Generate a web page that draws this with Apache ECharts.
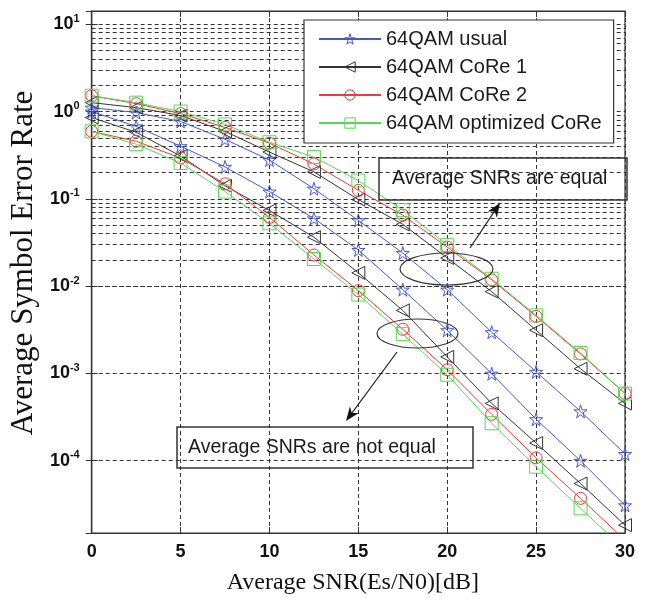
<!DOCTYPE html>
<html><head><meta charset="utf-8">
<script src="https://cdn.jsdelivr.net/npm/echarts@6/dist/echarts.min.js"></script>
<style>html,body{margin:0;padding:0;background:#fff}#c{width:646px;height:600px}</style>
</head><body><div id="c"></div>
<script>
// ---- data ----
const snrDb = [0, 2.5, 5, 7.5, 10, 12.5, 15, 17.5, 20, 22.5, 25, 27.5, 30];

const usualEqual      = [1.11, 0.974, 0.770, 0.481, 0.278, 0.1305, 0.0566, 0.0239, 0.00910, 0.00296, 0.00104, 0.000367, 0.000119];
const usualNotEqual   = [1.00, 0.676, 0.401, 0.232, 0.121, 0.0596, 0.0259, 0.00910, 0.00312, 0.000990, 0.000298, 0.0000995, 0.0000307];
const core1Equal      = [1.265, 1.11, 0.901, 0.593, 0.343, 0.2035, 0.0981, 0.0510, 0.0210, 0.00864, 0.00312, 0.001128, 0.000452];
const core1NotEqual   = [0.855, 0.578, 0.309, 0.1411, 0.0735, 0.0363, 0.01418, 0.00526, 0.001543, 0.000452, 0.000159, 0.0000546, 0.0000182];
const core2Equal      = [1.518, 1.232, 0.949, 0.659, 0.434, 0.2506, 0.1249, 0.0650, 0.02797, 0.01182, 0.0045, 0.001668, 0.000587];
const core2NotEqual   = [0.593, 0.457, 0.293, 0.1487, 0.0612, 0.0227, 0.00887, 0.0032, 0.0011, 0.000339, 0.0001076, 0.0000369, 0.0000123];
const optEqual        = [1.518, 1.265, 1.0, 0.712, 0.445, 0.301, 0.162, 0.0741, 0.0297, 0.01213, 0.00462, 0.00171, 0.000587];
const optNotEqual     = [0.593, 0.4225, 0.2573, 0.121, 0.0523, 0.02045, 0.00799, 0.00281, 0.000964, 0.000268, 0.0000851, 0.0000284, 0.0000095];

const seriesNames = ['64QAM usual', '64QAM CoRe 1', '64QAM CoRe 2', '64QAM optimized CoRe'];
const xTicks = [0, 5, 10, 15, 20, 25, 30];
const yRange = [1.48e-5, 14.2];
const xTitle = 'Average SNR(Es/N0)[dB]';
const yTitle = 'Average Symbol Error Rate';
const noteEqual = 'Average SNRs are equal';
const noteNotEqual = 'Average SNRs are not equal';

// ---- styles ----
const colors = ['#4657d0', '#333333', '#ee3a3a', '#55d855'];
const hollow = 'rgba(255,255,255,0)';
const starPath = 'path://M50,0 L61,35 L98,35 L68,57 L79,91 L50,70 L21,91 L32,57 L2,35 L39,35 Z';
const triLeftPath = 'path://M0,50 L100,0 L100,100 Z';
const symbols = [starPath, triLeftPath, 'circle', 'rect'];
const symbolSizes = [13, 13, 12, 13];

function mkSeries(idx, data) {
  return {
    name: seriesNames[idx], type: 'line',
    data: snrDb.map((x, i) => [x, data[i]]),
    symbol: symbols[idx], symbolSize: symbolSizes[idx],
    showSymbol: true, clip: true, z: 5,
    lineStyle: { color: colors[idx], width: 1 },
    itemStyle: { color: hollow, borderColor: colors[idx], borderWidth: 1 }
  };
}

// minor log grid positions (2..9 x 10^k)
const minorGrid = [];
for (let e = -5; e <= 1; e++) for (let m = 2; m <= 9; m++) {
  const v = m * Math.pow(10, e);
  if (v > yRange[0] && v < yRange[1]) minorGrid.push({ yAxis: v });
}

const gridLine = { color: '#333', width: 1, type: [4, 3] };
const tickFont = { color: '#111', fontFamily: 'Liberation Sans, Arial', fontWeight: 'bold', fontSize: 18 };

function yLabel(v) {
  const l = Math.log10(v), e = Math.round(l);
  if (Math.abs(l - e) > 1e-6) return '';
  return '{b|10}{s|' + e + '}';
}

const chart = echarts.init(document.getElementById('c'), null, { renderer: 'canvas' });
const option = {
  animation: false,
  backgroundColor: '#fff',
  grid: { left: 88, right: 21, top: 11, bottom: 62, show: true, borderColor: '#333', borderWidth: 1.2, backgroundColor: '#fff' },
  legend: {
    z: 100, zlevel: 0,
    data: seriesNames.map((n, i) => ({ name: n, itemStyle: { color: hollow, borderColor: colors[i], borderWidth: 1 } })),
    orient: 'vertical', left: 304, top: 20,
    padding: [9, 12, 10, 14], itemGap: 8, itemWidth: 62, itemHeight: 13,
    backgroundColor: '#fff', borderColor: '#333', borderWidth: 1.2, borderRadius: 0,
    textStyle: { fontFamily: 'Liberation Sans, Arial', fontSize: 20, color: '#1a1a1a' },
    selectedMode: false
  },
  xAxis: [{
    type: 'value', min: xTicks[0], max: xTicks[xTicks.length - 1], interval: 5,
    name: xTitle, nameLocation: 'middle', nameGap: 38,
    nameTextStyle: { fontFamily: 'Liberation Serif, Times New Roman', fontSize: 24, color: '#111', padding: [0, 11, 0, 0] },
    axisLine: { show: true, lineStyle: { color: '#333', width: 1.2 } },
    axisTick: { show: true, inside: true, length: 6, lineStyle: { color: '#333' } },
    axisLabel: Object.assign({ margin: 10 }, tickFont),
    splitLine: { show: true, lineStyle: gridLine }
  }, {
    type: 'value', position: 'top', min: xTicks[0], max: xTicks[xTicks.length - 1], interval: 5,
    axisLine: { show: true, lineStyle: { color: '#333', width: 1.2 } },
    axisTick: { show: true, inside: true, length: 6, lineStyle: { color: '#333' } },
    axisLabel: { show: false }, splitLine: { show: false }
  }],
  yAxis: [{
    type: 'log', logBase: 10, min: yRange[0], max: yRange[1],
    name: yTitle, nameLocation: 'middle', nameGap: 50, nameRotate: 90,
    nameTextStyle: { fontFamily: 'Liberation Serif, Times New Roman', fontSize: 31, color: '#111', padding: [0, 0, 0, 18] },
    axisLine: { show: true, lineStyle: { color: '#333', width: 1.2 } },
    axisTick: { show: true, inside: true, length: 6, lineStyle: { color: '#333' } },
    axisLabel: {
      margin: 12, formatter: yLabel,
      rich: {
        b: { fontFamily: 'Liberation Sans, Arial', fontWeight: 'bold', fontSize: 18, color: '#111' },
        s: { fontFamily: 'Liberation Sans, Arial', fontWeight: 'bold', fontSize: 11, color: '#111', padding: [0, 0, 11, 0] }
      }
    },
    splitLine: { show: true, lineStyle: gridLine }
  }, {
    type: 'log', logBase: 10, min: yRange[0], max: yRange[1], position: 'right',
    axisLine: { show: true, lineStyle: { color: '#333', width: 1.2 } },
    axisTick: { show: true, inside: true, length: 6, lineStyle: { color: '#333' } },
    axisLabel: { show: false }, splitLine: { show: false }
  }],
  series: [
    {
      name: 'minor-grid', type: 'line', data: [], silent: true, z: 1,
      markLine: { silent: true, symbol: 'none', label: { show: false }, animation: false, z: 1,
        lineStyle: gridLine, emphasis: { disabled: true }, data: minorGrid }
    },
    mkSeries(0, usualEqual), mkSeries(0, usualNotEqual),
    mkSeries(1, core1Equal), mkSeries(1, core1NotEqual),
    mkSeries(2, core2Equal), mkSeries(2, core2NotEqual),
    mkSeries(3, optEqual), mkSeries(3, optNotEqual)
  ]
};
chart.setOption(option);

// ---- annotations (boxes, ellipses, arrows) ----
function arrow(x1, y1, x2, y2) {
  const a = Math.atan2(y2 - y1, x2 - x1), L = 14, W = 5.5;
  const c = Math.cos(a), s = Math.sin(a);
  const bx = x2 - L * c, by = y2 - L * s, nx = -s, ny = c;
  return [
    { type: 'line', z: 20, shape: { x1: x1, y1: y1, x2: x2 - 8 * c, y2: y2 - 8 * s }, style: { stroke: '#222', lineWidth: 1.2 } },
    { type: 'polygon', z: 20, shape: { points: [[x2, y2], [bx + W * nx, by + W * ny], [x2 - 0.7 * L * c, y2 - 0.7 * L * s], [bx - W * nx, by - W * ny]] }, style: { fill: '#111' } }
  ];
}
const noteFont = '19.5px "Liberation Sans", Arial';
const graphics = [
  { type: 'rect', z: 20, shape: { x: 379, y: 158, width: 248, height: 42 }, style: { fill: 'none', stroke: '#333', lineWidth: 1.5 } },
  { type: 'text', z: 21, style: { text: noteEqual, x: 392, y: 179, font: noteFont, fill: '#1a1a1a', verticalAlign: 'middle', align: 'left' } },
  { type: 'rect', z: 20, shape: { x: 177, y: 427, width: 296, height: 41 }, style: { fill: 'none', stroke: '#333', lineWidth: 1.5 } },
  { type: 'text', z: 21, style: { text: noteNotEqual, x: 188, y: 448, font: noteFont, fill: '#1a1a1a', verticalAlign: 'middle', align: 'left' } },
  { type: 'ellipse', z: 20, shape: { cx: 446.5, cy: 269, rx: 46.5, ry: 16 }, style: { fill: 'none', stroke: '#333', lineWidth: 1.2 } },
  { type: 'ellipse', z: 20, shape: { cx: 417.5, cy: 333.5, rx: 40.5, ry: 14.5 }, style: { fill: 'none', stroke: '#333', lineWidth: 1.2 } }
].concat(arrow(470, 248, 500, 203), arrow(397, 352, 346, 421));
chart.setOption({ graphic: graphics });
</script>
</body></html>
